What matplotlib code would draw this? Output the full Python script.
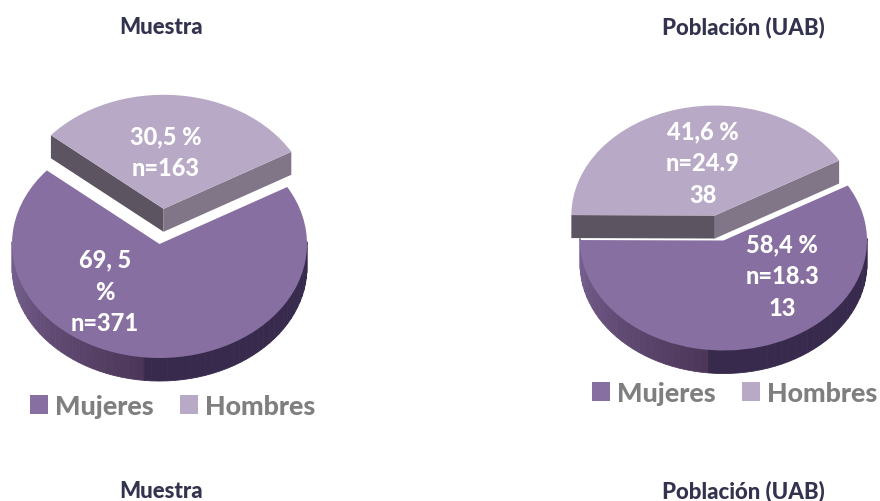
import numpy as np
import matplotlib
matplotlib.use("Agg")
import matplotlib.pyplot as plt
from matplotlib.patches import Polygon

W, H = 880, 502
categories = ["Hombres", "Mujeres"]
legend_order = ["Mujeres", "Hombres"]
sample_pct = [30.5, 69.5]
population_pct = [41.6, 58.4]
sample_labels = [["30,5 %", "n=163"], ["69, 5", "%", "n=371"]]
population_labels = [["41,6 %", "n=24.9", "38"], ["58,4 %", "n=18.3", "13"]]
titles = ["Muestra", "Población (UAB)"]

TOP = {"Mujeres": "#876fa1", "Hombres": "#b8a9c7"}
GRAY = "#7f7f7f"
plt.rcParams["font.family"] = ["Lato", "DejaVu Sans"]
plt.rcParams["font.weight"] = "black"

fig = plt.figure(figsize=(W / 100, H / 100), dpi=100)


def side_colour(a):
    """Shade of the rim of the big slice at angle a (degrees)."""
    if a >= 262:
        return "#372a4c"
    t = (a - 180) / 82
    c0 = np.array([0x78, 0x62, 0x92])
    c1 = np.array([0x4c, 0x36, 0x58])
    return tuple((c0 + (c1 - c0) * t) / 255)


def pie3d(values, cx, cy, rx, ry, depth, explode, fig):
    ax = fig.add_axes([0, 0, 1, 1], label=f"pie{cx}")
    wedges, _ = ax.pie(values, explode=[explode, 0], startangle=30, radius=1,
                       colors=[TOP["Hombres"], TOP["Mujeres"]],
                       wedgeprops=dict(linewidth=0, antialiased=True))
    ax.set_aspect("auto")
    ax.set_xlim(-cx / rx, (W - cx) / rx)
    ax.set_ylim(-(H - cy) / ry, cy / ry)
    ax.patch.set_alpha(0)
    d = depth / ry
    hom, muj = wedges
    hom.set_zorder(5)
    muj.set_zorder(3)

    # rim of the big slice, built as overlapping vertical strips
    angles = np.arange(180, 360, 3.0)
    for a in angles:
        t = np.radians(np.linspace(a, a + 3.0, 6))
        x = np.cos(t)
        y = np.sin(t)
        pts = np.r_[np.c_[x, y + 0.02], np.c_[x[::-1], y[::-1] - d]]
        col = side_colour(a)
        ax.add_patch(Polygon(pts, closed=True, fc=col, ec=col, lw=0.6, zorder=2))

    # cut faces of the pulled-out slice
    hx, hy = hom.center
    for ang, col in ((hom.theta2, "#5d5462"), (hom.theta1, "#817688")):
        ex = hx + np.cos(np.radians(ang))
        ey = hy + np.sin(np.radians(ang))
        ax.add_patch(Polygon([(hx, hy), (ex, ey), (ex, ey - d), (hx, hy - d)],
                             closed=True, fc=col, ec="none", zorder=4))
    return ax, wedges


ax1, w1 = pie3d(sample_pct, 159.5, 245, 147.5, 114, 23, 0.31, fig)
ax2, w2 = pie3d(population_pct, 723.5, 241.5, 143.5, 110, 23, 0.235, fig)


def label(lines, x, y0):
    for i, s in enumerate(lines):
        fig.text(x / W, 1 - (y0 + 32 * i) / H, s, color="white", fontsize=17,
                 ha="center", va="center", zorder=20)


label(sample_labels[0], 166, 137)
label(sample_labels[1], 105, 260)
label(population_labels[0], 703, 132)
label(population_labels[1], 782, 245)

for x, yt, t in ((161, 34, titles[0]), (743, 34, titles[1]),
                 (161, 498, titles[0]), (743, 498, titles[1])):
    fig.text(x / W, 1 - yt / H, t, fontsize=16, color="#33334f", ha="center", va="baseline")

for ax, w, (lx, ly) in ((ax1, w1, (30, 407)), (ax2, w2, (592, 394))):
    leg = ax.legend([w[1], w[0]], legend_order, ncol=2, frameon=False,
                    loc="center left", bbox_to_anchor=(lx / W, 1 - ly / H),
                    bbox_transform=fig.transFigure, borderpad=0, borderaxespad=0,
                    handlelength=0.66, handleheight=0.66, handletextpad=0.26,
                    columnspacing=1.0, labelcolor=GRAY,
                    prop=dict(family="Lato", weight="black", size=19.4))
    leg.set_zorder(30)

fig.savefig("out.png", dpi=100, facecolor="white")
